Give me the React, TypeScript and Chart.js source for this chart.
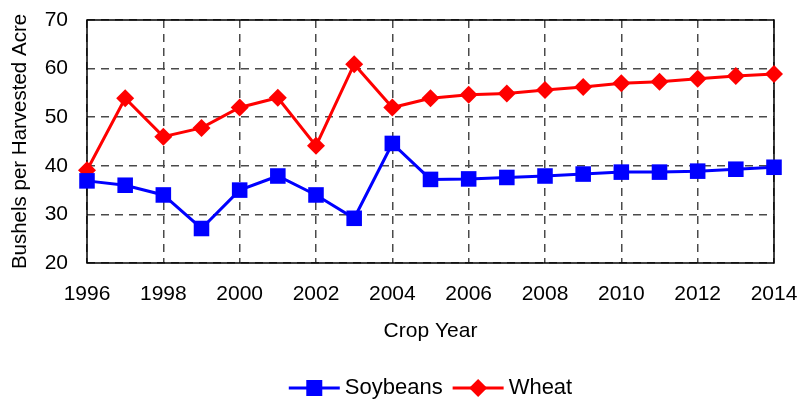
import React, { useEffect, useRef } from "react";
import { Chart, registerables } from "chart.js";

Chart.register(...registerables);

const years = [1996, 1997, 1998, 1999, 2000, 2001, 2002, 2003, 2004, 2005, 2006, 2007, 2008, 2009, 2010, 2011, 2012, 2013, 2014];
const soybeans = [36.9, 36.0, 34.0, 27.1, 35.0, 37.9, 34.0, 29.2, 44.6, 37.2, 37.3, 37.6, 37.9, 38.3, 38.7, 38.7, 38.9, 39.3, 39.7];
const wheat = [39.1, 53.9, 46.0, 47.8, 52.0, 54.0, 44.1, 60.9, 52.0, 53.9, 54.6, 54.9, 55.6, 56.2, 57.0, 57.3, 57.9, 58.5, 58.9];
const yTickMin = 20;
const yTickMax = 70;
const yTickStep = 10;
const xTickStep = 2;
const seriesNames = ["Soybeans", "Wheat"];
const seriesColors = ["#0000FF", "#FF0000"];
const yTitle = "Bushels per Harvested Acre";
const xTitle = "Crop Year";

const FONT = "'Liberation Sans', Arial, sans-serif";

const frameAndLegend = {
  id: "frameAndLegend",
  beforeDatasetsDraw(chart: any) {
    const { ctx, chartArea } = chart;
    ctx.save();
    ctx.strokeStyle = "#000";
    ctx.lineWidth = 1.5;
    ctx.setLineDash([]);
    ctx.strokeRect(chartArea.left, chartArea.top, chartArea.right - chartArea.left, chartArea.bottom - chartArea.top);
    ctx.restore();
  },
  afterDraw(chart: any) {
    const { ctx, chartArea } = chart;
    ctx.save();
    ctx.font = `22px ${FONT}`;
    const lineLen = 51;
    const gapText = 5;
    const gapItems = 10;
    const widths = seriesNames.map((n) => ctx.measureText(n).width);
    let total = 0;
    widths.forEach((w, i) => {
      total += lineLen + gapText + w + (i < widths.length - 1 ? gapItems : 0);
    });
    let x = (chartArea.left + chartArea.right) / 2 - total / 2;
    const y = 388;
    seriesNames.forEach((name, i) => {
      const c = seriesColors[i];
      ctx.strokeStyle = c;
      ctx.fillStyle = c;
      ctx.lineWidth = 3;
      ctx.beginPath();
      ctx.moveTo(x, y);
      ctx.lineTo(x + lineLen, y);
      ctx.stroke();
      const cx = x + lineLen / 2;
      ctx.beginPath();
      if (i === 0) {
        ctx.rect(cx - 8, y - 8, 16, 16);
      } else {
        ctx.moveTo(cx - 9, y);
        ctx.lineTo(cx, y - 9);
        ctx.lineTo(cx + 9, y);
        ctx.lineTo(cx, y + 9);
        ctx.closePath();
      }
      ctx.fill();
      ctx.fillStyle = "#000";
      ctx.textAlign = "left";
      ctx.textBaseline = "middle";
      ctx.fillText(name, x + lineLen + gapText, y);
      x += lineLen + gapText + widths[i] + gapItems;
    });
    ctx.restore();
  },
};

export default function App() {
  const ref = useRef<HTMLCanvasElement>(null);
  useEffect(() => {
    document.body.style.margin = "0";
    const canvas = ref.current;
    if (!canvas) return;
    const chart = new Chart(canvas, {
      type: "line",
      data: {
        datasets: [
          {
            label: seriesNames[0],
            data: years.map((y, i) => ({ x: y, y: soybeans[i] })),
            borderColor: seriesColors[0],
            backgroundColor: seriesColors[0],
            borderWidth: 3,
            pointStyle: "rect",
            pointRadius: 11,
            pointBorderWidth: 0,
            tension: 0,
            clip: false,
          },
          {
            label: seriesNames[1],
            data: years.map((y, i) => ({ x: y, y: wheat[i] })),
            borderColor: seriesColors[1],
            backgroundColor: seriesColors[1],
            borderWidth: 3,
            pointStyle: "rectRot",
            pointRadius: 9,
            pointBorderWidth: 0,
            tension: 0,
            clip: false,
          },
        ],
      },
      options: {
        animation: false,
        responsive: false,
        maintainAspectRatio: false,
        devicePixelRatio: 1,
        layout: { autoPadding: false, padding: { left: 0, right: 38, top: 20, bottom: 57 } },
        plugins: {
          legend: { display: false },
          tooltip: { enabled: false },
        },
        scales: {
          x: {
            type: "linear",
            min: years[0],
            max: years[years.length - 1],
            ticks: {
              stepSize: xTickStep,
              padding: 19,
              color: "#000",
              font: { family: FONT, size: 21 },
              callback: (v: any) => String(v),
              maxRotation: 0,
              autoSkip: false,
            },
            grid: { color: "#4a4a4a", lineWidth: 1.5, drawTicks: false },
            border: { display: false, dash: [8, 6] },
            title: {
              display: true,
              text: xTitle,
              color: "#000",
              font: { family: FONT, size: 21 },
              padding: { top: 0, bottom: 0 },
            },
            afterFit: (s: any) => {
              s.height = 81;
              s.paddingLeft = 0;
              s.paddingRight = 0;
            },
          },
          y: {
            type: "linear",
            min: yTickMin,
            max: yTickMax,
            ticks: {
              stepSize: yTickStep,
              padding: 19,
              color: "#000",
              font: { family: FONT, size: 21 },
            },
            grid: { color: "#4a4a4a", lineWidth: 1.5, drawTicks: false },
            border: { display: false, dash: [8, 6] },
            title: {
              display: true,
              text: yTitle,
              color: "#000",
              font: { family: FONT, size: 20.5 },
              padding: { top: 8, bottom: 0 },
            },
            afterFit: (s: any) => {
              s.width = 87;
              s.paddingTop = 0;
              s.paddingBottom = 0;
            },
          },
        },
      },
      plugins: [frameAndLegend],
    });
    return () => chart.destroy();
  }, []);
  return (
    <div style={{ width: 812, height: 401 }}>
      <canvas ref={ref} width={812} height={401} style={{ display: "block" }} />
    </div>
  );
}
